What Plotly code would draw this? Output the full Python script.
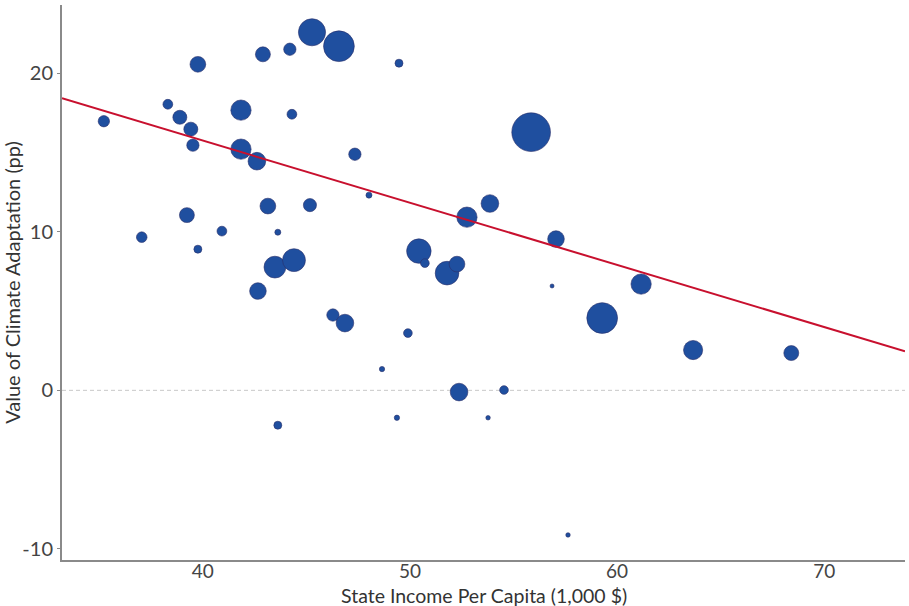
import numpy as np
import plotly.graph_objects as go

# State income per capita (thousand $)
income = [35.22, 37.05, 38.31, 38.89, 39.42, 39.52, 39.23, 39.76, 39.76, 40.92,
          41.84, 41.84, 42.61, 42.66, 42.90, 43.14, 43.48, 43.62, 43.62, 44.20,
          44.30, 44.40, 45.27, 45.17, 46.57, 46.28, 46.86, 47.34, 48.02, 48.65,
          49.37, 49.47, 49.90, 50.43, 50.72, 51.79, 52.27, 52.75, 52.37, 53.86,
          53.77, 54.54, 55.85, 56.86, 57.05, 57.63, 59.28, 61.16, 63.67, 68.41]

# Value of climate adaptation (percentage points)
adaptation = [16.97, 9.66, 18.04, 17.22, 16.47, 15.46, 11.05, 8.90, 20.56, 10.04,
              17.67, 15.21, 14.45, 6.26, 21.19, 11.62, 7.77, 9.97, -2.20, 21.51,
              17.41, 8.21, 22.58, 11.68, 21.70, 4.75, 4.24, 14.89, 12.31, 1.34,
              -1.73, 20.63, 3.61, 8.78, 8.02, 7.39, 7.96, 10.92, -0.11, 11.78,
              -1.73, 0.02, 16.28, 6.58, 9.54, -9.12, 4.56, 6.70, 2.54, 2.35]

# State population (millions), used for bubble area
population = [3.2, 2.8, 2.4, 4.9, 4.9, 3.8, 5.6, 1.6, 6.2, 2.4,
              10.3, 10.3, 7.8, 6.9, 5.6, 6.2, 11.9, 0.9, 1.6, 3.8,
              2.4, 13.1, 18.4, 4.3, 23.7, 3.8, 7.8, 3.8, 0.9, 0.7,
              0.7, 1.6, 1.9, 15.0, 1.9, 14.0, 6.2, 10.3, 7.8, 7.8,
              0.5, 1.9, 37.4, 0.3, 6.9, 0.5, 23.7, 10.3, 9.2, 5.6]

# Linear fit of adaptation on income
fit_intercept = 31.43
fit_slope = -0.392

x_range = [33.2, 73.9]
y_range = [-10.7, 24.3]

x_ticks = [40, 50, 60, 70]
y_ticks = [-10, 0, 10, 20]
y_tick_labels = ["-10", "0", "10", "20"]

x_title = "State Income Per Capita (1,000 $)"
y_title = "Value of Climate Adaptation (pp)"

fig = go.Figure()

fig.add_hline(y=0, line=dict(color="#c8c8c8", width=1, dash="4px,3px"), layer="below")

fig.add_trace(go.Scatter(
    x=income, y=adaptation, mode="markers",
    marker=dict(
        size=population, sizemode="area", sizeref=0.05, sizemin=2,
        color="#1f4f9f", opacity=1,
        line=dict(color="#2a2f6a", width=0.6),
    ),
    hoverinfo="x+y", showlegend=False,
))

fit_x = np.array(x_range)
fit_y = fit_intercept + fit_slope * fit_x
fig.add_trace(go.Scatter(
    x=fit_x, y=fit_y, mode="lines",
    line=dict(color="#c8102e", width=2),
    hoverinfo="skip", showlegend=False,
))

axis_common = dict(
    showgrid=False, zeroline=False,
    showline=True, linecolor="#8a8a8a", linewidth=2,
    tickcolor="#8a8a8a", tickwidth=1,
    tickfont=dict(family="Lato", size=20, color="#444444"),
    automargin=False,
)

fig.update_layout(
    width=909, height=606,
    margin=dict(l=62, r=4, t=5, b=46),
    paper_bgcolor="white", plot_bgcolor="white",
    font=dict(family="Lato", color="#333333"),
    xaxis=dict(
        range=x_range, tickvals=x_ticks,
        ticks="", ticklabelstandoff=-7,
        **axis_common,
    ),
    yaxis=dict(
        range=y_range, tickvals=y_ticks, ticktext=y_tick_labels,
        ticks="outside", ticklen=3,
        title=dict(text=y_title,
                   font=dict(family="Lato", size=20, color="#333333"), standoff=4),
        **axis_common,
    ),
)
fig.update_xaxes(tickfont_size=19)

# x-axis title placed just under the tick labels
fig.add_annotation(
    text=x_title, xref="paper", yref="paper", x=0.5, y=0,
    xanchor="center", yanchor="middle", yshift=-35, showarrow=False,
    font=dict(family="Lato", size=19.5, color="#333333"),
)

fig.write_html("out.html")
